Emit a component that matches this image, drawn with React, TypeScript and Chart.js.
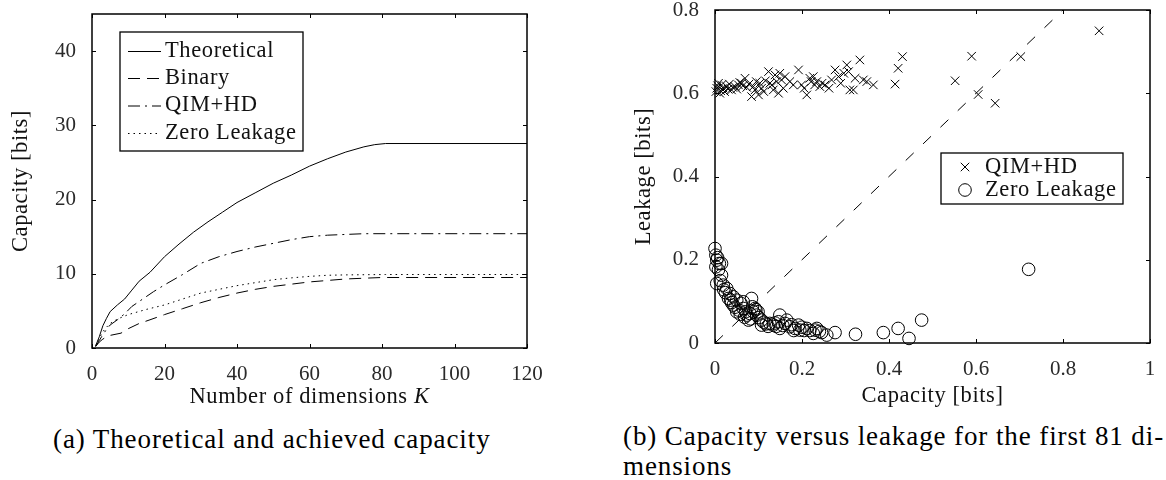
import React, { useEffect, useRef } from 'react';
import { Chart, registerables } from 'chart.js';

Chart.register(...registerables);

const SERIF = "'Liberation Serif', 'Times New Roman', Times, serif";

// ---------- Panel (a): capacity vs number of dimensions K ----------
const theoreticalK = [1, 2, 3, 4, 5, 7, 9, 11, 13, 16, 20, 24, 28, 32, 36, 40, 45, 50, 55, 60, 65, 70, 75, 78, 81, 120];
const theoreticalCap = [0.3, 1.5, 3.0, 4.0, 4.9, 5.8, 6.6, 7.8, 9.0, 10.2, 12.3, 14.0, 15.6, 17.0, 18.3, 19.6, 20.9, 22.2, 23.3, 24.5, 25.5, 26.4, 27.1, 27.4, 27.55, 27.55];

const binaryK = [1, 2, 3, 4, 5, 8, 10, 13, 16, 20, 25, 30, 35, 40, 45, 50, 55, 60, 65, 70, 75, 80, 120];
const binaryCap = [0.2, 0.8, 1.2, 1.5, 1.7, 2.0, 2.6, 3.3, 3.8, 4.5, 5.3, 6.1, 6.8, 7.4, 7.9, 8.3, 8.6, 8.9, 9.1, 9.3, 9.4, 9.5, 9.5];

const qimK = [1, 2, 3, 4, 5, 7, 9, 11, 14, 17, 20, 25, 30, 35, 40, 45, 50, 55, 60, 65, 70, 75, 81, 120];
const qimCap = [0.2, 1.0, 1.8, 2.5, 3.1, 3.8, 4.6, 5.6, 6.6, 7.6, 8.5, 9.9, 11.4, 12.3, 13.0, 13.6, 14.1, 14.6, 15.0, 15.2, 15.3, 15.4, 15.4, 15.4];

const zeroK = [1, 2, 3, 4, 5, 7, 10, 15, 20, 25, 30, 35, 40, 45, 50, 55, 60, 65, 70, 81, 120];
const zeroCap = [0.3, 1.3, 2.2, 2.8, 3.3, 3.9, 4.5, 5.2, 5.8, 6.6, 7.4, 7.9, 8.4, 8.8, 9.2, 9.45, 9.65, 9.8, 9.85, 9.9, 9.9];

const leftXTicks = [0, 20, 40, 60, 80, 100, 120];
const leftYTicks = [0, 10, 20, 30, 40];

// ---------- Panel (b): capacity vs leakage ----------
const qimCapacity = [
  0.004, 0.008, 0.002, 0.011, 0.019, 0.027, 0.038, 0.046, 0.054, 0.061,
  0.069, 0.073, 0.084, 0.088, 0.100, 0.103, 0.107, 0.123, 0.126, 0.134,
  0.142, 0.149, 0.146, 0.153, 0.172, 0.192, 0.199, 0.211, 0.218, 0.226,
  0.234, 0.241, 0.253, 0.268, 0.276, 0.284, 0.303, 0.307, 0.310, 0.318,
  0.322, 0.333, 0.341, 0.349, 0.364, 0.414, 0.421, 0.431, 0.552, 0.590,
  0.605, 0.644, 0.703, 0.883, 0.006, 0.013, 0.015, 0.022, 0.030, 0.033,
  0.041, 0.050, 0.057, 0.064, 0.078, 0.092, 0.095, 0.112, 0.116, 0.131,
  0.138, 0.157, 0.161, 0.180, 0.205, 0.221, 0.229, 0.246, 0.262, 0.289,
  0.296,
];
const qimLeakage = [
  0.612, 0.624, 0.604, 0.600, 0.612, 0.616, 0.608, 0.616, 0.620, 0.624,
  0.636, 0.614, 0.592, 0.616, 0.596, 0.624, 0.612, 0.652, 0.624, 0.608,
  0.628, 0.648, 0.600, 0.632, 0.628, 0.656, 0.620, 0.596, 0.636, 0.640,
  0.628, 0.616, 0.620, 0.632, 0.656, 0.640, 0.668, 0.652, 0.608, 0.608,
  0.636, 0.680, 0.632, 0.628, 0.620, 0.622, 0.660, 0.688, 0.630, 0.689,
  0.597, 0.576, 0.688, 0.750, 0.618, 0.606, 0.620, 0.604, 0.610, 0.622,
  0.614, 0.610, 0.626, 0.618, 0.622, 0.608, 0.628, 0.604, 0.630, 0.620,
  0.644, 0.612, 0.640, 0.620, 0.612, 0.628, 0.620, 0.624, 0.612, 0.624,
  0.648,
];

const zeroCapacity = [
  0.000, 0.002, 0.004, 0.010, 0.002, 0.015, 0.015, 0.004, 0.019, 0.027,
  0.034, 0.031, 0.042, 0.050, 0.042, 0.065, 0.084, 0.050, 0.065, 0.073,
  0.077, 0.088, 0.092, 0.099, 0.096, 0.107, 0.107, 0.126, 0.134, 0.149,
  0.146, 0.149, 0.161, 0.172, 0.184, 0.192, 0.195, 0.211, 0.230, 0.234,
  0.226, 0.257, 0.276, 0.323, 0.387, 0.421, 0.446, 0.475, 0.721, 0.006,
  0.008, 0.012, 0.020, 0.024, 0.036, 0.038, 0.046, 0.055, 0.058, 0.068,
  0.070, 0.080, 0.082, 0.086, 0.094, 0.101, 0.112, 0.118, 0.122, 0.138,
  0.141, 0.156, 0.165, 0.176, 0.181, 0.200, 0.205, 0.218, 0.240, 0.245,
  0.060,
];
const zeroLeakage = [
  0.227, 0.211, 0.199, 0.191, 0.183, 0.191, 0.163, 0.143, 0.139, 0.131,
  0.119, 0.107, 0.111, 0.103, 0.091, 0.099, 0.107, 0.075, 0.083, 0.067,
  0.055, 0.075, 0.083, 0.075, 0.067, 0.055, 0.043, 0.047, 0.043, 0.067,
  0.051, 0.035, 0.047, 0.039, 0.035, 0.043, 0.031, 0.035, 0.031, 0.035,
  0.023, 0.019, 0.025, 0.021, 0.025, 0.035, 0.011, 0.055, 0.177, 0.205,
  0.176, 0.150, 0.128, 0.121, 0.103, 0.097, 0.086, 0.079, 0.069, 0.062,
  0.075, 0.071, 0.058, 0.087, 0.080, 0.061, 0.050, 0.046, 0.040, 0.048,
  0.040, 0.042, 0.055, 0.044, 0.030, 0.038, 0.030, 0.030, 0.028, 0.025,
  0.095,
];

const diagonalCapacity = [0, 0.8];
const diagonalLeakage = [0, 0.8];

const rightXTicks = [0, 0.2, 0.4, 0.6, 0.8, 1];
const rightYTicks = [0, 0.2, 0.4, 0.6, 0.8];

const toPoints = (xs: number[], ys: number[]) => xs.map((x, i) => ({ x, y: ys[i] }));

type LegendCfg = {
  box: [number, number, number, number];
  rows: number[];
  sampleX0: number;
  sampleX1: number;
  markerX: number;
  textX: number;
  datasets: number[];
};

type DecorCfg = {
  id: string;
  yTitle: string;
  yTitleX: number;
  xTitle: string;
  xTitleItalic: string;
  xTitleY: number;
  legend: LegendCfg;
};

const TITLE_FONT = `22.5px ${SERIF}`;
const TITLE_ITALIC = `italic 22.5px ${SERIF}`;
const TITLE_SPACING = '0.6px';

function makeDecor(cfg: DecorCfg) {
  return {
    id: cfg.id,
    afterDraw(chart: any) {
      const ctx = chart.ctx as CanvasRenderingContext2D;
      const { left, top, right, bottom } = chart.chartArea;
      const xs = chart.scales.x;
      const ys = chart.scales.y;
      ctx.save();
      ctx.setLineDash([]);
      // frame
      ctx.strokeStyle = '#000';
      ctx.lineWidth = 1.5;
      ctx.strokeRect(left, top, right - left, bottom - top);
      // inward ticks on all four sides
      ctx.lineWidth = 1;
      ctx.beginPath();
      const TL = 4;
      xs.ticks.forEach((t: any) => {
        const px = Math.round(xs.getPixelForValue(t.value)) + 0.5;
        ctx.moveTo(px, bottom);
        ctx.lineTo(px, bottom - TL);
        ctx.moveTo(px, top);
        ctx.lineTo(px, top + TL);
      });
      ys.ticks.forEach((t: any) => {
        const py = Math.round(ys.getPixelForValue(t.value)) + 0.5;
        ctx.moveTo(left, py);
        ctx.lineTo(left + TL, py);
        ctx.moveTo(right, py);
        ctx.lineTo(right - TL, py);
      });
      ctx.stroke();

      // axis titles
      ctx.fillStyle = '#111';
      (ctx as any).letterSpacing = TITLE_SPACING;
      ctx.textBaseline = 'middle';
      ctx.font = TITLE_FONT;
      ctx.save();
      ctx.translate(cfg.yTitleX, (top + bottom) / 2);
      ctx.rotate(-Math.PI / 2);
      ctx.textAlign = 'center';
      ctx.fillText(cfg.yTitle, 0, 0);
      ctx.restore();

      const cx = (left + right) / 2;
      ctx.font = TITLE_FONT;
      const w1 = ctx.measureText(cfg.xTitle).width;
      ctx.font = TITLE_ITALIC;
      const w2 = cfg.xTitleItalic ? ctx.measureText(cfg.xTitleItalic).width : 0;
      const x0 = cx - (w1 + w2) / 2;
      ctx.textAlign = 'left';
      ctx.font = TITLE_FONT;
      ctx.fillText(cfg.xTitle, x0, cfg.xTitleY);
      if (cfg.xTitleItalic) {
        ctx.font = TITLE_ITALIC;
        ctx.fillText(cfg.xTitleItalic, x0 + w1, cfg.xTitleY);
      }

      // legend
      const lg = cfg.legend;
      const [bx0, by0, bx1, by1] = lg.box;
      ctx.fillStyle = '#fff';
      ctx.fillRect(bx0, by0, bx1 - bx0, by1 - by0);
      ctx.strokeStyle = '#000';
      ctx.lineWidth = 1.3;
      ctx.strokeRect(bx0, by0, bx1 - bx0, by1 - by0);
      lg.datasets.forEach((di, i) => {
        const ds = chart.data.datasets[di];
        const y = lg.rows[i];
        ctx.strokeStyle = ds.borderColor;
        ctx.lineWidth = ds.borderWidth || 1;
        if (ds.showLine) {
          ctx.setLineDash(ds.borderDash || []);
          ctx.beginPath();
          ctx.moveTo(lg.sampleX0, y + 0.5);
          ctx.lineTo(lg.sampleX1, y + 0.5);
          ctx.stroke();
          ctx.setLineDash([]);
        } else if (ds.pointStyle === 'crossRot') {
          const r = ds.pointRadius * Math.SQRT1_2;
          ctx.beginPath();
          ctx.moveTo(lg.markerX - r, y - r);
          ctx.lineTo(lg.markerX + r, y + r);
          ctx.moveTo(lg.markerX + r, y - r);
          ctx.lineTo(lg.markerX - r, y + r);
          ctx.stroke();
        } else {
          ctx.beginPath();
          ctx.arc(lg.markerX, y, ds.pointRadius, 0, Math.PI * 2);
          ctx.stroke();
        }
        ctx.fillStyle = '#111';
        ctx.font = TITLE_FONT;
        ctx.textAlign = 'left';
        ctx.textBaseline = 'middle';
        ctx.fillText(ds.label, lg.textX, y);
      });
      ctx.restore();
    },
  };
}

function fixedScale(ticks: number[], size: number, horizontal: boolean, padding: number) {
  return {
    type: 'linear',
    grid: { display: false },
    border: { display: false },
    ticks: {
      font: { family: SERIF, size: 21 },
      color: '#2a2a2a',
      padding,
      maxRotation: 0,
      autoSkip: false,
      callback: (v: number) => String(v),
    },
    afterBuildTicks: (s: any) => {
      s.ticks = ticks.map((v) => ({ value: v }));
    },
    afterFit: (s: any) => {
      if (horizontal) s.height = size;
      else s.width = size;
      s.paddingTop = 0;
      s.paddingBottom = 0;
      s.paddingLeft = 0;
      s.paddingRight = 0;
    },
  };
}

const lineDs = (label: string, xs: number[], ys: number[], dash: number[]) => ({
  label,
  data: toPoints(xs, ys),
  showLine: true,
  borderColor: '#000',
  borderWidth: 1,
  borderDash: dash,
  pointRadius: 0,
  tension: 0,
  clip: false,
});

export default function App() {
  const leftRef = useRef<HTMLCanvasElement>(null);
  const rightRef = useRef<HTMLCanvasElement>(null);

  useEffect(() => {
    const left = new Chart(leftRef.current as HTMLCanvasElement, {
      type: 'scatter',
      data: {
        datasets: [
          lineDs('Theoretical', theoreticalK, theoreticalCap, []),
          lineDs('Binary', binaryK, binaryCap, [12, 7]),
          lineDs('QIM+HD', qimK, qimCap, [12, 5, 2, 5]),
          lineDs('Zero Leakage', zeroK, zeroCap, [1.5, 4]),
        ],
      } as any,
      options: {
        responsive: false,
        animation: false,
        events: [],
        layout: { padding: { left: 0, top: 14, right: 53, bottom: 0 } },
        plugins: { legend: { display: false }, tooltip: { enabled: false } },
        scales: {
          x: { ...fixedScale(leftXTicks, 72, true, 6), min: 0, max: 120 },
          y: { ...fixedScale(leftYTicks, 92, false, 8), min: 0, max: 45 },
        },
      } as any,
      plugins: [
        makeDecor({
          id: 'decorA',
          yTitle: 'Capacity [bits]',
          yTitleX: 21,
          xTitle: 'Number of dimensions ',
          xTitleItalic: 'K',
          xTitleY: 397,
          legend: {
            box: [120, 32, 303, 151],
            rows: [51, 78, 105.5, 133],
            sampleX0: 128,
            sampleX1: 161,
            markerX: 144,
            textX: 165,
            datasets: [0, 1, 2, 3],
          },
        }),
      ],
    } as any);

    const right = new Chart(rightRef.current as HTMLCanvasElement, {
      type: 'scatter',
      data: {
        datasets: [
          {
            label: 'QIM+HD',
            data: toPoints(qimCapacity, qimLeakage),
            pointStyle: 'crossRot',
            pointRadius: 6,
            borderColor: '#000',
            borderWidth: 1,
            backgroundColor: 'rgba(0,0,0,0)',
            clip: false,
          },
          {
            label: 'Zero Leakage',
            data: toPoints(zeroCapacity, zeroLeakage),
            pointStyle: 'circle',
            pointRadius: 6.3,
            borderColor: '#000',
            borderWidth: 1,
            backgroundColor: 'rgba(0,0,0,0)',
            clip: false,
          },
          lineDs('Capacity = Leakage', diagonalCapacity, diagonalLeakage, [11, 13]),
        ],
      } as any,
      options: {
        responsive: false,
        animation: false,
        events: [],
        layout: { padding: { left: 0, top: 10, right: 16, bottom: 0 } },
        plugins: { legend: { display: false }, tooltip: { enabled: false } },
        scales: {
          x: { ...fixedScale(rightXTicks, 77, true, 6), min: 0, max: 1 },
          y: { ...fixedScale(rightYTicks, 135, false, 8), min: 0, max: 0.8 },
        },
      } as any,
      plugins: [
        makeDecor({
          id: 'decorB',
          yTitle: 'Leakage [bits]',
          yTitleX: 64,
          xTitle: 'Capacity [bits]',
          xTitleItalic: '',
          xTitleY: 396,
          legend: {
            box: [361, 153, 543, 204],
            rows: [167, 190],
            sampleX0: 372,
            sampleX1: 398,
            markerX: 385,
            textX: 405,
            datasets: [0, 1],
          },
        }),
      ],
    } as any);

    return () => {
      left.destroy();
      right.destroy();
    };
  }, []);

  const captionStyle: React.CSSProperties = {
    position: 'absolute',
    fontFamily: SERIF,
    fontSize: 27,
    lineHeight: '30px',
    letterSpacing: '0.9px',
    color: '#000',
    whiteSpace: 'nowrap',
  };

  return (
    <div
      style={{
        position: 'absolute',
        left: 0,
        top: 0,
        width: 1166,
        height: 480,
        background: '#fff',
        overflow: 'hidden',
      }}
    >
      <canvas
        ref={leftRef}
        width={580}
        height={420}
        style={{ position: 'absolute', left: 0, top: 0, width: 580, height: 420, display: 'block' }}
      />
      <canvas
        ref={rightRef}
        width={586}
        height={420}
        style={{ position: 'absolute', left: 580, top: 0, width: 586, height: 420, display: 'block' }}
      />
      <div style={{ ...captionStyle, left: 53, top: 424 }}>(a) Theoretical and achieved capacity</div>
      <div style={{ ...captionStyle, left: 623, top: 421 }}>
        (b) Capacity versus leakage for the first 81 di-
        <br />
        mensions
      </div>
    </div>
  );
}
